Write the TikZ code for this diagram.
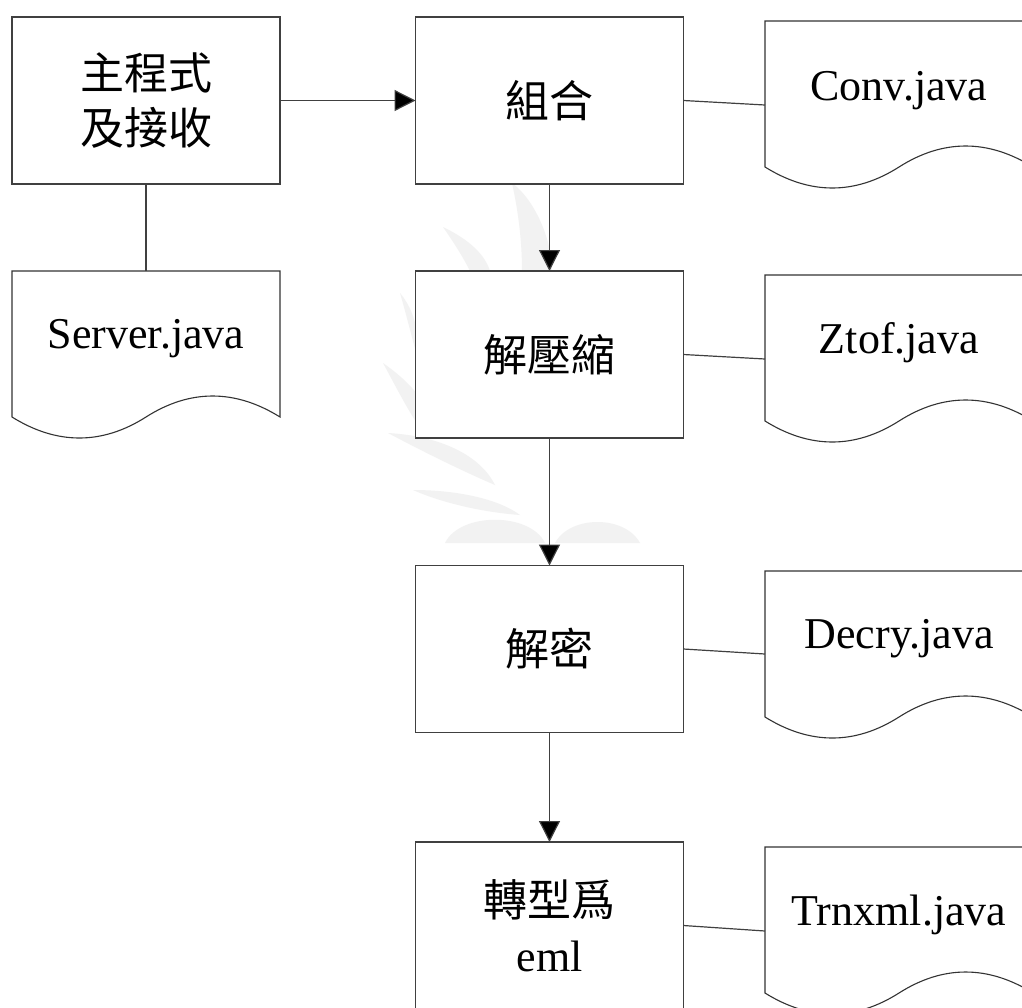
\documentclass[tikz,border=0pt]{standalone}
\usepackage{fontspec}
\setmainfont{Liberation Serif}
\newfontfamily\cjk{Noto Sans CJK TC}
\usetikzlibrary{arrows.meta}
\tikzset{
  procbox/.style={draw=black!75, line width=1.2pt, fill=white, rectangle,
    minimum width=268pt, minimum height=167pt, inner sep=0pt, outer sep=0pt,
    align=center, font=\fontsize{44}{55}\selectfont},
  doctext/.style={anchor=base, inner sep=0pt, font=\fontsize{44}{52}\selectfont},
  docshape/.style={draw=black!80, line width=1.1pt, fill=white},
  link/.style={draw=black!75, line width=1.2pt},
  flow/.style={draw=black!75, line width=1.2pt, -{Triangle[length=21pt,width=21pt,fill=black]}},
  wm/.style={fill=black!5, draw=none}
}
\newcommand{\docshapeat}[2]{%
  \path[docshape] (#1,#2) -- (#1+268,#2) -- (#1+268,#2+146)
    .. controls (#1+223,#2+118) and (#1+178,#2+118) .. (#1+134,#2+146)
    .. controls (#1+90,#2+174) and (#1+45,#2+174) .. (#1,#2+146) -- cycle;}
\begin{document}
\begin{tikzpicture}[x=1pt,y=-1pt]
\useasboundingbox (0,0) rectangle (1022,1007);
\fill[white] (0,0) rectangle (1022,1007);
% watermark
\path[wm] (512,183) .. controls (535,200) and (552,240) .. (552,271) -- (522,271) .. controls (522,240) and (518,210) .. (512,183) -- cycle;
\path[wm] (443,227) .. controls (470,240) and (485,255) .. (490,271) -- (470,271) .. controls (462,255) and (452,240) .. (443,227) -- cycle;
\path[wm] (400,293) .. controls (410,305) and (416,320) .. (418,340) -- (418,360) .. controls (410,330) and (405,310) .. (400,293) -- cycle;
\path[wm] (383,363) .. controls (400,375) and (410,385) .. (418,395) -- (418,425) .. controls (405,405) and (395,385) .. (383,363) -- cycle;
\path[wm] (388,433) .. controls (440,436) and (480,455) .. (495,485) .. controls (460,470) and (420,450) .. (388,433) -- cycle;
\path[wm] (413,490) .. controls (460,490) and (500,500) .. (520,515) .. controls (480,512) and (440,502) .. (413,490) -- cycle;
\path[wm] (445,543) .. controls (460,512) and (530,512) .. (545,543) -- cycle;
\path[wm] (555,543) .. controls (570,515) and (625,515) .. (640,543) -- cycle;
% process boxes
\node[procbox] (b1) at (146,100.5) {{\cjk 主程式}\\{\cjk 及接收}};
\node[procbox] (b2) at (549.5,100.5) {\cjk 組合};
\node[procbox] (b3) at (549.5,354.5) {\cjk 解壓縮};
\node[procbox] (b4) at (549.5,649) {\cjk 解密};
\node[procbox] (b5) at (549.5,925.5) {{\cjk 轉型爲}\\eml};
% documents
\docshapeat{12}{271}
\docshapeat{765}{21}
\docshapeat{765}{275}
\docshapeat{765}{571}
\docshapeat{765}{847}
\node[doctext] (dsrv) at (146,348) {Server.java};
\node[doctext] (dconv) at (899,100) {Conv.java};
\node[doctext] (dztof) at (899,353) {Ztof.java};
\node[doctext] (ddecry) at (899,648) {Decry.java};
\node[doctext] (dtrn) at (899,925) {Trnxml.java};
\coordinate (srvtop) at (146,271);
\coordinate (convL) at (765,105);
\coordinate (ztofL) at (765,359);
\coordinate (decryL) at (765,654);
\coordinate (trnL) at (765,931);
% connectors
\draw[flow] (b1.east) -- (b2.west);
\draw[flow] (b2.south) -- (b3.north);
\draw[flow] (b3.south) -- (b4.north);
\draw[flow] (b4.south) -- (b5.north);
\draw[link] (b1.south) -- (srvtop);
\draw[link] (b2.east) -- (convL);
\draw[link] (b3.east) -- (ztofL);
\draw[link] (b4.east) -- (decryL);
\draw[link] (b5.east) -- (trnL);
\end{tikzpicture}
\end{document}
